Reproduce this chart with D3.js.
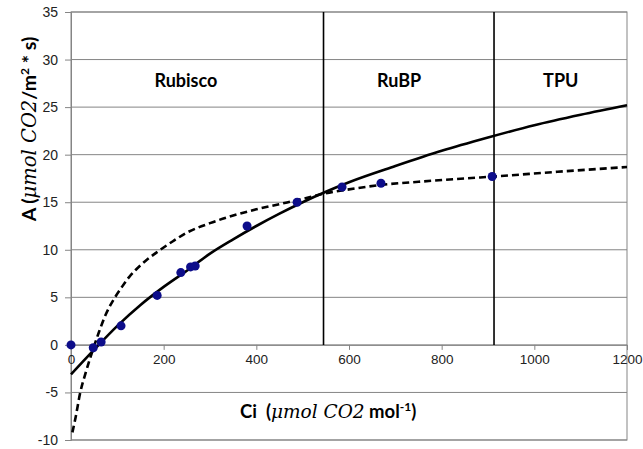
<!DOCTYPE html>
<meta charset="utf-8">
<script src="https://d3js.org/d3.v7.min.js"></script>
<style>
  body { margin: 0; background: #fff; }
</style>
<div id="chart"></div>
<script>

// measured points (Ci, A)
var pointCi = [0, 48, 65, 108, 186, 237, 258, 268, 380, 488, 585, 669, 909];
var pointA  = [0, -0.3, 0.3, 2.0, 5.2, 7.6, 8.2, 8.3, 12.5, 15.0, 16.6, 17.0, 17.7];

// solid curve
var solidCi = [0, 50, 100, 150, 200, 250, 300, 350, 400, 450, 500, 550, 600, 700, 800, 900, 1000, 1100, 1200];
var solidA  = [-3.1, -0.5, 2.0, 4.2, 6.1, 7.8, 9.6, 11.1, 12.5, 13.8, 15.0, 16.1, 17.1, 18.8, 20.4, 21.8, 23.1, 24.2, 25.2];

// dashed curve
var dashCi = [3, 10, 20, 30, 40, 50, 60, 75, 95, 110, 125, 140, 160, 190, 220, 250, 300, 350, 400, 450, 500, 545, 600, 666, 750, 850, 913, 1050, 1200];
var dashA  = [-9.2, -7.6, -5.0, -3.2, -1.6, -0.1, 1.3, 3.2, 5.0, 6.1, 7.1, 7.9, 8.8, 9.9, 10.9, 11.8, 12.8, 13.6, 14.25, 14.8, 15.35, 15.9, 16.35, 16.8, 17.15, 17.5, 17.7, 18.2, 18.7];

// limitation zones
var zoneBreaks = [545, 913];
var zoneNames = ["Rubisco", "RuBP", "TPU"];
var zoneLabelCi = [248, 708, 1057];
var zoneLabelA = 27.6;

var xTicks = [0, 200, 400, 600, 800, 1000, 1200];
var yTicks = [-10, -5, 0, 5, 10, 15, 20, 25, 30, 35];

var margin = {top: 12, right: 16, bottom: 9, left: 71},
    width = 643 - margin.left - margin.right,
    height = 449 - margin.top - margin.bottom;

var svg = d3.select("#chart")
  .append("svg")
    .attr("width", 643)
    .attr("height", 449)
  .append("g")
    .attr("transform", "translate(" + margin.left + "," + margin.top + ")");

var x = d3.scaleLinear().domain([0, 1200]).range([0, width]);
var y = d3.scaleLinear().domain([-10, 35]).range([height, 0]);

var grey = "#858585";
var plain = function(d) { return String(d); };

// gridlines
svg.append("g")
  .selectAll("line")
  .data(yTicks)
  .enter()
  .append("line")
    .attr("x1", 0)
    .attr("x2", width)
    .attr("y1", function(d) { return y(d); })
    .attr("y2", function(d) { return y(d); })
    .attr("stroke", grey)
    .attr("stroke-width", 1);

// plot border
svg.append("rect")
  .attr("x", 0)
  .attr("y", 0)
  .attr("width", width)
  .attr("height", height)
  .attr("fill", "none")
  .attr("stroke", grey)
  .attr("stroke-width", 1);

// Y axis
var yAxis = svg.append("g")
  .call(d3.axisLeft(y).tickValues(yTicks).tickFormat(plain).tickSize(6).tickPadding(7));
yAxis.selectAll("path, line").attr("stroke", grey);
yAxis.selectAll("text")
  .style("font-family", "'Liberation Sans', Arial, sans-serif")
  .style("font-size", "14px")
  .attr("fill", "#222");

// X axis at A = 0
var xAxis = svg.append("g")
  .attr("transform", "translate(0," + y(0) + ")")
  .call(d3.axisBottom(x).tickValues(xTicks).tickFormat(plain).tickSize(5).tickPadding(5));
xAxis.selectAll("path, line").attr("stroke", grey);
xAxis.selectAll("text")
  .style("font-family", "'Liberation Sans', Arial, sans-serif")
  .style("font-size", "13.5px")
  .attr("fill", "#222");

// zone separators
svg.append("g")
  .selectAll("line")
  .data(zoneBreaks)
  .enter()
  .append("line")
    .attr("x1", function(d) { return x(d); })
    .attr("x2", function(d) { return x(d); })
    .attr("y1", y(35))
    .attr("y2", y(0))
    .attr("stroke", "#000")
    .attr("stroke-width", 1.6);

svg.append("g")
  .selectAll("text")
  .data(zoneNames)
  .enter()
  .append("text")
    .attr("x", function(d, i) { return x(zoneLabelCi[i]); })
    .attr("y", y(zoneLabelA))
    .attr("text-anchor", "middle")
    .attr("dominant-baseline", "middle")
    .style("font-family", "Lato, 'Open Sans', sans-serif")
    .style("font-weight", "bold")
    .style("font-size", "18px")
    .text(function(d) { return d; });

var line = d3.line()
  .x(function(d) { return x(d[0]); })
  .y(function(d) { return y(d[1]); })
  .curve(d3.curveMonotoneX);

var dashData = dashCi.map(function(c, i) { return [c, dashA[i]]; });
var solidData = solidCi.map(function(c, i) { return [c, solidA[i]]; });

svg.append("path")
  .datum(dashData)
  .attr("d", line)
  .attr("fill", "none")
  .attr("stroke", "#000")
  .attr("stroke-width", 2.6)
  .attr("stroke-dasharray", "7,4");

svg.append("path")
  .datum(solidData)
  .attr("d", line)
  .attr("fill", "none")
  .attr("stroke", "#000")
  .attr("stroke-width", 2.6);

// measured points
svg.append("g")
  .selectAll("circle")
  .data(pointCi)
  .enter()
  .append("circle")
    .attr("cx", function(d) { return x(d); })
    .attr("cy", function(d, i) { return y(pointA[i]); })
    .attr("r", 4.5)
    .attr("fill", "#0d0d8a");

// axis titles
var yTitle = svg.append("text")
  .attr("transform", "translate(" + (-35) + "," + 117 + ") rotate(-90)")
  .attr("text-anchor", "middle")
  .style("white-space", "pre")
  .style("font-family", "Lato, 'Open Sans', sans-serif")
  .style("font-size", "19.5px")
  .style("font-weight", "bold");
yTitle.append("tspan").text("A (");
yTitle.append("tspan").text("\u03bcmol CO2")
  .style("font-family", "'DejaVu Serif', 'Liberation Serif', serif")
  .style("font-style", "italic")
  .style("font-weight", "normal");
yTitle.append("tspan").text("/m");
yTitle.append("tspan").text("2").attr("dy", -7).style("font-size", "12px");
yTitle.append("tspan").text(" * s)").attr("dy", 7);

var xTitle = svg.append("text")
  .attr("x", x(555))
  .attr("y", y(-7.7))
  .attr("text-anchor", "middle")
  .style("white-space", "pre")
  .style("font-family", "Lato, 'Open Sans', sans-serif")
  .style("font-size", "18.5px")
  .style("font-weight", "bold");
xTitle.append("tspan").text("Ci  (");
xTitle.append("tspan").text("\u03bcmol CO2")
  .style("font-family", "'DejaVu Serif', 'Liberation Serif', serif")
  .style("font-style", "italic")
  .style("font-weight", "normal");
xTitle.append("tspan").text(" mol");
xTitle.append("tspan").text("-1").attr("dy", -7).style("font-size", "12px");
xTitle.append("tspan").text(")").attr("dy", 7);

</script>
